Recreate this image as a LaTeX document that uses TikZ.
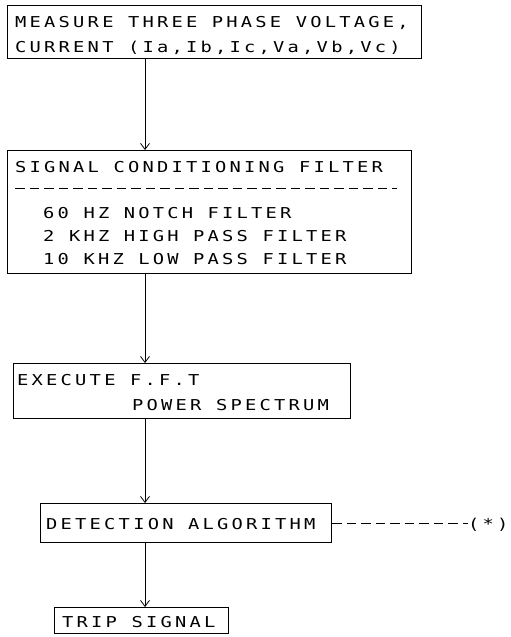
\documentclass[tikz,border=0pt]{standalone}
\usepackage{fontspec}
\newfontfamily\plotfont[FakeStretch=1.25,LetterSpace=21.5]{DejaVu Sans Mono}
\usetikzlibrary{arrows.meta}

\begin{document}
\begin{tikzpicture}[x=1pt,y=-1pt,
  box/.style={draw,line width=1pt,anchor=north west,inner sep=0pt},
  txt/.style={anchor=base west,inner sep=0pt,font=\plotfont\fontsize{15}{18}\selectfont},
  arr/.style={-{Straight Barb[length=6pt,width=9pt]},line width=0.8pt},
  dashrule/.style={line width=0.8pt,dash pattern=on 9.5pt off 5pt}
]
\useasboundingbox (0,0) rectangle (511,637);

% boxes
\node[box,minimum width=414pt,minimum height=53pt]  (b1) at (7,5)   {};
\node[box,minimum width=404pt,minimum height=123pt] (b2) at (7,150) {};
\node[box,minimum width=337pt,minimum height=55pt]  (b3) at (13,363) {};
\node[box,minimum width=291pt,minimum height=39pt]  (b4) at (40,503) {};
\node[box,minimum width=174pt,minimum height=26pt]  (b5) at (54,607) {};

% texts
\node[txt] (t1a) at (15,27.5) {MEASURE THREE PHASE VOLTAGE,};
\node[txt] (t1b) at (15,52)   {CURRENT (Ia,Ib,Ic,Va,Vb,Vc)};
\node[txt] (t2a) at (15,172.5) {SIGNAL CONDITIONING FILTER};
\node[txt] (t2b) at (43,218.5) {60 HZ NOTCH FILTER};
\node[txt] (t2c) at (43,241.5) {2 KHZ HIGH PASS FILTER};
\node[txt] (t2d) at (43,264.5) {10 KHZ LOW PASS FILTER};
\node[txt] (t3a) at (17,385.5) {EXECUTE F.F.T};
\node[txt] (t3b) at (132,410.5) {POWER SPECTRUM};
\node[txt] (t4)  at (46,529.5) {DETECTION ALGORITHM};
\node[txt] (t5)  at (62,627)   {TRIP SIGNAL};
% trailing letter space trimmed so the mark stays inside the page
\node[txt] (star) at (468,529.5) {(*)\kern-6pt};

% dashed separator inside the filter box
\draw[dashrule] (15,188) -- (397,188);

% flow arrows on a common vertical axis
\coordinate (ax) at (145,0);
\draw[arr] (b1.south -| ax) -- (b2.north -| ax);
\draw[arr] (b2.south -| ax) -- (b3.north -| ax);
\draw[arr] (b3.south -| ax) -- (b4.north -| ax);
\draw[arr] (b4.south -| ax) -- (b5.north -| ax);

% dashed link to the note mark
\draw[dashrule] (b4.east) -- (b4.east -| star.west);
\end{tikzpicture}
\end{document}
